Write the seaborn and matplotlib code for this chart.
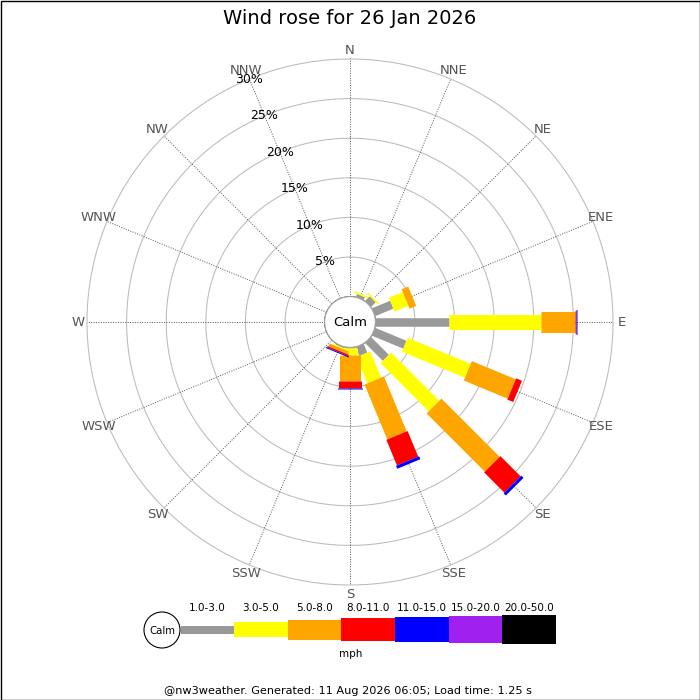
import numpy as np
import pandas as pd
import matplotlib
matplotlib.use('Agg')
import matplotlib.pyplot as plt
from matplotlib.patches import Circle, Rectangle
import seaborn as sns

# ---------------- data ----------------
directions = ['N', 'NNE', 'NE', 'ENE', 'E', 'ESE', 'SE', 'SSE',
              'S', 'SSW', 'SW', 'WSW', 'W', 'WNW', 'NW', 'NNW']
speed_classes = ['1.0-3.0', '3.0-5.0', '5.0-8.0', '8.0-11.0',
                 '11.0-15.0', '15.0-20.0', '20.0-50.0']
class_colors = ['#999999', '#ffff00', '#ffa500', '#ff0000',
                '#0000ff', '#a020f0', '#000000']

#            N    NNE   NE    ENE  E     ESE  SE    SSE  S     SSW   SW WSW W WNW NW NNW
pct_1_3   = [0.0, 0.40, 0.85, 2.5, 9.30, 4.3, 3.2,  1.2, 0.05, 0.15, 0, 0, 0, 0, 0, 0]
pct_3_5   = [0.0, 0.20, 0.20, 1.9, 11.6, 8.6, 8.6,  3.6, 0.90, 0.15, 0, 0, 0, 0, 0, 0]
pct_5_8   = [0.0, 0.00, 0.00, 0.9, 4.30, 6.0, 10.4, 7.5, 3.28, 0.38, 0, 0, 0, 0, 0, 0]
pct_8_11  = [0.0, 0.00, 0.00, 0.0, 0.10, 0.8, 3.6,  3.5, 0.92, 0.19, 0, 0, 0, 0, 0, 0]
pct_11_15 = [0.0, 0.00, 0.00, 0.0, 0.15, 0.0, 0.4,  0.4, 0.13, 0.13, 0, 0, 0, 0, 0, 0]
pct_15_20 = [0.0, 0.00, 0.00, 0.0, 0.05, 0.0, 0.0,  0.0, 0.00, 0.00, 0, 0, 0, 0, 0, 0]
pct_20_50 = [0.0, 0.00, 0.00, 0.0, 0.00, 0.0, 0.0,  0.0, 0.00, 0.00, 0, 0, 0, 0, 0, 0]

ring_pcts = [5, 10, 15, 20, 25, 30]
title = 'Wind rose for 26 Jan 2026'
footer = '@nw3weather. Generated: 11 Aug 2026 06:05; Load time: 1.25 s'
unit_label = 'mph'

series = [pct_1_3, pct_3_5, pct_5_8, pct_8_11, pct_11_15, pct_15_20, pct_20_50]

# ---------------- styling ----------------
PX = 72 / 100.0                       # points per pixel
bar_px = [8.5, 15, 21, 23, 25, 27, 29]  # bar thickness in pixels
leg_px = [8, 15, 20, 23, 25, 27, 29]
R_MAX = 30
R_CALM = 3.2                          # radius (in %) of the calm hole

# ---------------- build long table of segments ----------------
rows = []
dir_theta = np.deg2rad(np.arange(16) * 22.5)
for di, d in enumerate(directions):
    cum = 0.0
    for ci, cls in enumerate(speed_classes):
        v = series[ci][di]
        if v <= 0:
            continue
        seg = f'{d}-{cls}'
        rows.append({'theta': dir_theta[di], 'r': cum, 'cls': cls, 'seg': seg})
        rows.append({'theta': dir_theta[di], 'r': cum + v, 'cls': cls, 'seg': seg})
        cum += v
df = pd.DataFrame(rows)

# ---------------- figure ----------------
fig = plt.figure(figsize=(7, 7), dpi=100)
fig.patch.set_facecolor('white')

cx, cy, rad = 350, 322, 263
ax = fig.add_axes([(cx - rad) / 700, (700 - cy - rad) / 700, 2 * rad / 700, 2 * rad / 700],
                  projection='polar')
ax.set_theta_zero_location('N')
ax.set_theta_direction(-1)
ax.set_rorigin(-R_CALM)
ax.set_ylim(0, R_MAX)
ax.grid(False)
for s in ax.spines.values():
    s.set_visible(False)
ax.patch.set_alpha(0)

# rings
tt = np.linspace(0, 2 * np.pi, 721)
for rp in ring_pcts:
    ax.plot(tt, np.full_like(tt, rp), color='#bbbbbb', lw=0.75, zorder=1, clip_on=False)
# spokes
for th in dir_theta:
    ax.plot([th, th], [0, R_MAX], color='#555555', lw=0.7,
            linestyle=(0, (1, 1.5)), zorder=1, clip_on=False)

# bars
sns.lineplot(data=df, x='theta', y='r', units='seg', hue='cls', size='cls',
             hue_order=speed_classes, size_order=speed_classes,
             palette=dict(zip(speed_classes, class_colors)),
             sizes=dict(zip(speed_classes, [p * PX for p in bar_px])),
             estimator=None, sort=False, legend=False, ax=ax,
             solid_capstyle='butt', zorder=3)
ax.set_xlabel('')
ax.set_ylabel('')
ax.set_xticks([])
ax.set_yticks([])
ax.set_ylim(0, R_MAX)

# ring labels along NNW
for rp in ring_pcts:
    ax.text(np.deg2rad(337.5), rp, f'{rp}%', ha='center', va='center',
            fontsize=9, color='black', zorder=6)

# direction labels
lab_r = 272 / rad * (R_MAX + R_CALM) - R_CALM
for th, d in zip(dir_theta, directions):
    ax.text(th, lab_r, d, ha='center', va='center', fontsize=9.5,
            color='#555555', clip_on=False)

# calm circle
ax.add_patch(Circle((0.5, 0.5), R_CALM / (R_MAX + R_CALM) * 0.5, transform=ax.transAxes,
                    facecolor='white', edgecolor='#aaaaaa', lw=0.8, zorder=5,
                    clip_on=False))
ax.text(0.5, 0.5, 'Calm', transform=ax.transAxes, ha='center', va='center',
        fontsize=9.5, zorder=6)

# ---------------- overlay (pixel coordinates) ----------------
lax = fig.add_axes([0, 0, 1, 1])
lax.set_xlim(0, 700)
lax.set_ylim(700, 0)
lax.axis('off')

lax.text(350, 18, title, ha='center', va='center', fontsize=14)
lax.text(348, 691, footer, ha='center', va='center', fontsize=8.1)

# legend
leg_y = 629.5
leg_left0, leg_w = 180.5, 53.65
lax.add_patch(Circle((162, 630), 18, facecolor='white', edgecolor='black', lw=0.8, zorder=3))
lax.text(162, 630.5, 'Calm', ha='center', va='center', fontsize=7.3, zorder=4)
for i, cls in enumerate(speed_classes):
    lax.barh(leg_y, leg_w, left=leg_left0 + i * leg_w, height=leg_px[i],
             color=class_colors[i], edgecolor='none', zorder=2)
    lax.text(leg_left0 + (i + 0.5) * leg_w, 608, cls, ha='center', va='center',
             fontsize=7.5)
lax.text(351, 654, unit_label, ha='center', va='center', fontsize=7.5)

# border
lax.add_patch(Rectangle((0.5, 0.5), 699, 699, fill=False, edgecolor='black',
                        lw=1.0, clip_on=False))

fig.savefig('out.png', dpi=100)
